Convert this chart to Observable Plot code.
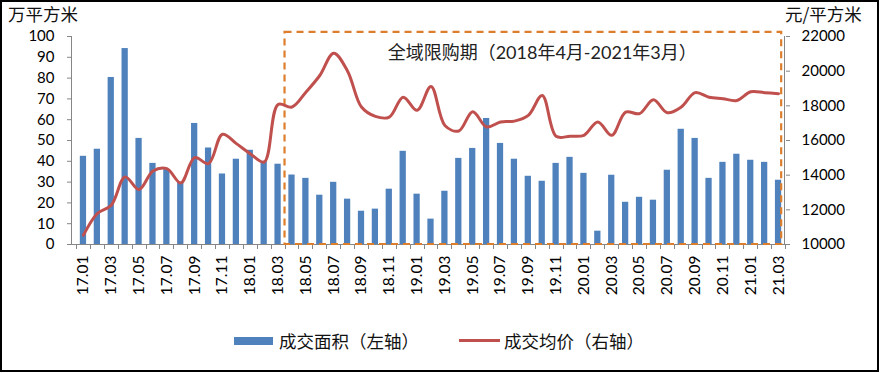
<!DOCTYPE html>
<html>
<head>
<meta charset="utf-8">
<script src="https://cdn.jsdelivr.net/npm/d3@7"></script>
<script src="https://cdn.jsdelivr.net/npm/@observablehq/plot@0.6"></script>
<style>
  body { margin: 0; background: #fff; }
  #wrap { position: relative; width: 880px; height: 373px; overflow: hidden; background: #fff; }
  #chart { position: absolute; left: 0; top: 0; }
  #border { position: absolute; left: 0; top: 0; width: 879px; height: 372px; box-sizing: border-box; border: 2px solid #000; pointer-events: none; }
  .lab { position: absolute; font-family: "Noto Sans CJK SC", sans-serif; color: #111; line-height: 1; white-space: nowrap; }
  .unit { font-size: 17.5px; top: 5px; }
  .leg { font-size: 17.5px; top: 332px; }
  .sw { position: absolute; }
</style>
</head>
<body>
<div id="wrap">
  <div id="chart"></div>
  <div class="lab unit" style="left:8px;">万平方米</div>
  <div class="lab unit" style="left:785px;">元/平方米</div>
  <div class="sw" style="left:234px;top:337px;width:39px;height:8px;background:#4F81BD;"></div>
  <div class="lab leg" style="left:279px;">成交面积（左轴）</div>
  <div class="sw" style="left:459px;top:339px;width:41px;height:3px;background:#C0504D;"></div>
  <div class="lab leg" style="left:504px;">成交均价（右轴）</div>
  <div id="border"></div>
</div>
<script>
const months = ["17.01","17.02","17.03","17.04","17.05","17.06","17.07","17.08","17.09","17.10","17.11","17.12",
  "18.01","18.02","18.03","18.04","18.05","18.06","18.07","18.08","18.09","18.10","18.11","18.12",
  "19.01","19.02","19.03","19.04","19.05","19.06","19.07","19.08","19.09","19.10","19.11","19.12",
  "20.01","20.02","20.03","20.04","20.05","20.06","20.07","20.08","20.09","20.10","20.11","20.12",
  "21.01","21.02","21.03"];
const tradeArea = [42.4,45.8,80.3,94.2,51.0,39.0,36.0,30.0,58.2,46.4,33.9,41.0,
  45.3,40.0,38.6,33.4,31.8,23.7,29.9,21.8,16.0,17.0,26.6,44.8,
  24.2,12.2,25.6,41.4,46.2,60.6,48.6,41.0,32.8,30.4,39.0,41.9,
  34.2,6.4,33.3,20.3,22.7,21.3,35.7,55.4,51.0,31.8,39.5,43.4,
  40.5,39.5,30.9];
const avgPrice = [10540,11790,12270,13900,13170,14240,14380,13550,15010,14670,16360,15820,
  15240,14760,18080,17930,18790,19750,21040,20000,17930,17390,17350,18500,
  17740,19120,16870,16550,17660,16780,17070,17120,17450,18600,16240,16250,
  16300,17070,16300,17640,17550,18350,17600,17930,18760,18500,18410,18310,
  18810,18760,18700];
const xTickLabels = months.filter((d, i) => i % 2 === 0);
const leftTicks = [0,10,20,30,40,50,60,70,80,90,100];
const rightTicks = [10000,12000,14000,16000,18000,20000,22000];
const leftDomain = [0, 100];
const rightDomain = [10000, 22000];
const periodFrom = "18.04", periodTo = "21.03", periodTop = 102;
const periodNote = "全域限购期（2018年4月-2021年3月）";
const noteAt = {month: "19.10", value: 92};

// map right-axis values onto the left scale
const toLeft = v => (v - rightDomain[0]) / (rightDomain[1] - rightDomain[0]) * (leftDomain[1] - leftDomain[0]) + leftDomain[0];
const fromLeft = v => (v - leftDomain[0]) / (leftDomain[1] - leftDomain[0]) * (rightDomain[1] - rightDomain[0]) + rightDomain[0];

const data = months.map((m, i) => ({m, area: tradeArea[i], price: avgPrice[i], p: toLeft(avgPrice[i])}));

const axisColor = "#868686";

function frameMark(index, scales, values, dims) {
  const {x, y} = scales;
  const L = dims.marginLeft, R = dims.width - dims.marginRight;
  const T = dims.marginTop, B = dims.height - dims.marginBottom;
  const bw = typeof x.bandwidth === "function" ? x.bandwidth() : (x.bandwidth ?? 0);
  const step = x(months[1]) - x(months[0]);
  const centers = months.map(m => x(m) + bw / 2);
  const bounds = [centers[0] - step / 2, ...centers.map(c => c + step / 2)];
  const g = d3.create("svg:g");
  const line = (x1, y1, x2, y2, stroke, w) => g.append("line").attr("x1", x1).attr("y1", y1).attr("x2", x2).attr("y2", y2)
      .attr("stroke", stroke).attr("stroke-width", w || 1);
  line(L + 0.5, T, L + 0.5, B, axisColor);
  line(R - 0.5, T, R - 0.5, B, axisColor);
  line(L - 4, B + 0.5, R + 4, B + 0.5, axisColor);
  bounds.forEach(b => line(Math.round(b) + 0.5, B, Math.round(b) + 0.5, B + 5, axisColor));
  // dashed period box
  const x0 = centers[months.indexOf(periodFrom)] - step / 2;
  const x1 = x(periodTo) + bw;
  const y0 = y(periodTop), y1 = y(leftDomain[0]);
  g.append("rect").attr("x", x0).attr("y", y0).attr("width", x1 - x0).attr("height", y1 - y0)
    .attr("fill", "none").attr("stroke", "#DC7E2C").attr("stroke-width", 2.2).attr("stroke-dasharray", "7,5");
  return g.node();
}

const chart = Plot.plot({
  width: 880,
  height: 373,
  marginLeft: 71,
  marginRight: 95,
  marginTop: 36,
  marginBottom: 129,
  style: {fontFamily: "Lato, 'Noto Sans CJK SC', sans-serif", fontSize: "15px", color: "#000", background: "transparent", overflow: "visible"},
  x: {domain: months, range: [76, 785], paddingInner: 0.55, paddingOuter: 0.275, label: null, axis: null},
  y: {domain: leftDomain, label: null, axis: null},
  marks: [
    Plot.barY(data, {x: "m", y: "area", fill: "#4F81BD"}),
    frameMark,
    Plot.line(data, {x: "m", y: "p", stroke: "#C0504D", strokeWidth: 3, curve: "catmull-rom"}),
    Plot.axisY(leftTicks, {anchor: "left", tickSize: 4, tickPadding: 13, stroke: axisColor, label: null, fontSize: 15}),
    Plot.axisY(rightTicks.map(toLeft), {anchor: "right", tickSize: 4, tickPadding: 12, stroke: axisColor, label: null,
      tickFormat: d => String(Math.round(fromLeft(d))), fontSize: 15}),
    Plot.axisX(xTickLabels, {anchor: "bottom", tickSize: 0, tickPadding: 11, tickRotate: -90, label: null, fontSize: 15.5}),
    Plot.text([periodNote], {x: () => noteAt.month, y: () => noteAt.value, text: d => d, fontSize: 18, fill: "#222",
      fontFamily: "Lato, 'Noto Sans CJK SC', sans-serif"})
  ]
});
document.getElementById("chart").appendChild(chart);
</script>
</body>
</html>
